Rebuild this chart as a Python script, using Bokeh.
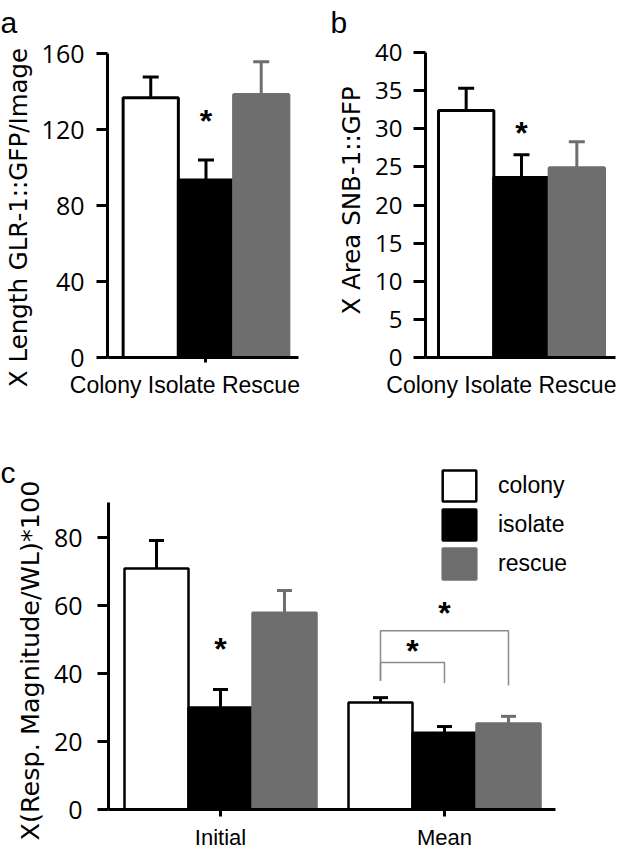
import math
from bokeh.plotting import figure
from bokeh.models import (Range1d, FixedTicker, ColumnDataSource, Whisker, TeeHead,
                          Label, Legend, LegendItem)
from bokeh.layouts import column, row
from bokeh.embed import file_html
from bokeh.resources import INLINE
from bokeh.core.properties import value

# ---------------- data ----------------
cats = ["Colony", "Isolate", "Rescue"]
a_mean = [136.7, 93.4, 138.4]
a_sem = [10.9, 10.5, 17.2]
a_ticks = [0, 40, 80, 120, 160]
a_label = "X Length GLR-1::GFP/Image"
a_star_y = [126.0]

b_mean = [32.4, 23.6, 24.9]
b_sem = [2.9, 3.0, 3.4]
b_ticks = [0, 5, 10, 15, 20, 25, 30, 35, 40]
b_label = "X Area SNB-1::GFP"
b_star_y = [29.9]

groups = ["Initial", "Mean"]
series = ["colony", "isolate", "rescue"]
c_colony = [70.9, 31.5]
c_colony_sem = [8.2, 1.4]
c_isolate = [30.0, 22.6]
c_isolate_sem = [5.3, 1.8]
c_rescue = [57.9, 25.3]
c_rescue_sem = [6.5, 2.1]
c_ticks = [0, 20, 40, 60, 80]
c_label = "X(Resp. Magnitude/WL)*100"
c_star_initial_y = [48.2]
# significance brackets in the "Mean" group: colony vs isolate, colony vs rescue
br_to = ["isolate", "rescue"]
br_top = [43.2, 52.6]
br_left_bottom = [37.9, 37.9]
br_right_bottom = [37.1, 36.5]
br_star_y = [47.6, 58.8]

# ---------------- styles ----------------
WHITE, BLACK, GRAY = "white", "black", "#6e6e6e"
FILLS = [WHITE, BLACK, GRAY]
LINES = [BLACK, BLACK, GRAY]
BR_GRAY = "#8a8a8a"
TICK_FONT = "Open Sans"
TITLE_FONT = "DejaVu Sans"
CAT_FONT = "Liberation Sans"


def base_fig(width, height, xr, yr, left, right, top, bottom):
    p = figure(width=width, height=height, x_range=xr, y_range=yr,
               output_backend="svg", toolbar_location=None, title=None,
               min_border_left=left, min_border_right=right,
               min_border_top=top, min_border_bottom=bottom, frame_align=False)
    p.outline_line_color = None
    p.grid.visible = False
    p.background_fill_color = "white"
    p.border_fill_color = "white"
    return p


def text_fig(width, height):
    """A bare canvas (no axes) that only carries panel letters and axis titles."""
    p = figure(width=width, height=height, x_range=Range1d(0, 1), y_range=Range1d(0, 1),
               output_backend="svg", toolbar_location=None, title=None,
               x_axis_location=None, y_axis_location=None, min_border=0,
               frame_align=False)
    p.outline_line_color = None
    p.grid.visible = False
    p.background_fill_color = "white"
    p.border_fill_color = "white"
    return p


def style_y(p, ticks, tick_out, standoff, size, bounds=None):
    ax = p.yaxis[0]
    ax.ticker = FixedTicker(ticks=ticks)
    if bounds is not None:
        ax.bounds = bounds
    ax.axis_line_width = 3
    ax.axis_line_color = "black"
    ax.major_tick_line_width = 3
    ax.major_tick_line_color = "black"
    ax.major_tick_out = tick_out
    ax.major_tick_in = 0
    ax.minor_tick_line_color = None
    ax.major_label_standoff = standoff
    ax.major_label_text_font = TICK_FONT
    ax.major_label_text_font_size = size
    ax.major_label_text_color = "black"


def style_x(p, ticks, overrides, tick_out, standoff, size, bounds=None):
    ax = p.xaxis[0]
    ax.ticker = FixedTicker(ticks=ticks)
    if bounds is not None:
        ax.bounds = bounds
    ax.major_label_overrides = overrides
    ax.axis_line_width = 3
    ax.axis_line_color = "black"
    ax.major_tick_line_width = 3
    ax.major_tick_line_color = "black" if tick_out > 0 else None
    ax.major_tick_out = tick_out
    ax.major_tick_in = 0
    ax.minor_tick_line_color = None
    ax.major_label_standoff = standoff
    ax.major_label_text_font = CAT_FONT
    ax.major_label_text_font_size = size
    ax.major_label_text_color = "black"


def add_label(p, text, x, y, size, font, angle=0.0, align="center", baseline="middle"):
    p.add_layout(Label(x=x, y=y, x_units="screen", y_units="screen", text=text,
                       angle=angle, text_font=font, text_font_size=size,
                       text_align=align, text_baseline=baseline, text_color="black"))


def add_whisker(p, x, low, up, color, size, lw):
    src = ColumnDataSource(dict(x=[x], lower=[low], upper=[up]))
    p.add_layout(Whisker(base="x", lower="lower", upper="upper", source=src,
                         line_color=color, line_width=lw,
                         upper_head=TeeHead(size=size, line_color=color, line_width=lw),
                         lower_head=None))


def star(p, x, y):
    p.text(x=x, y=y, text=["*"] * len(x), text_font=value(CAT_FONT),
           text_font_size="32px", text_font_style="bold", text_align="center",
           text_baseline="middle", text_color="black", y_offset=3)


def simple_panel(width, left, right, top, bottom, xr, yr, means, sems, ticks,
                 ytick_out, ystd, ysize, xtick_out, xstd, star_y):
    p = base_fig(width, 400, xr, yr, left, right, top, bottom)
    xs = [i + 1 for i in range(len(cats))]
    src = ColumnDataSource(dict(x=xs, top=means, fill=FILLS, line=LINES))
    p.vbar(x="x", top="top", bottom=0, width=1, fill_color="fill",
           line_color="line", line_width=3, source=src)
    for x, m, s, c in zip(xs, means, sems, LINES):
        add_whisker(p, x, m, m + s, c, 16, 3)
    star(p, [xs[1]], star_y)
    style_y(p, ticks, ytick_out, ystd, ysize)
    style_x(p, [xs[1]], {xs[1]: " ".join(cats)}, xtick_out, xstd, "23px")
    return p


# ---------------- panel a ----------------
ta = text_fig(38, 400)
add_label(ta, "a", 0, 378, "30px", CAT_FONT, align="left", baseline="alphabetic")
add_label(ta, a_label, 18, 183, "24.5px", TITLE_FONT, angle=math.pi / 2)
pa = simple_panel(272, 68, 12, 53, 40, Range1d(0.217, 3.675), Range1d(0, 160),
                  a_mean, a_sem, a_ticks, 11, 12, "25px", 5, 9, a_star_y)

# ---------------- panel b ----------------
tb = text_fig(60, 400)
add_label(tb, "b", 20, 378, "30px", CAT_FONT, align="left", baseline="alphabetic")
add_label(tb, b_label, 41, 200, "24.5px", TITLE_FONT, angle=math.pi / 2)
pb = simple_panel(256, 55, 11, 52, 40, Range1d(0.265, 3.699), Range1d(0, 40),
                  b_mean, b_sem, b_ticks, 12, 11, "24px", 0, 14, b_star_y)

# ---------------- panel c ----------------
tc = text_fig(48, 452)
add_label(tc, "c", 0, 380, "30px", CAT_FONT, align="left", baseline="alphabetic")
add_label(tc, c_label, 29, 192, "25.5px", TITLE_FONT, angle=math.pi / 2)

pc = base_fig(578, 452, Range1d(-3.5, 12.6875), Range1d(0, 102.65), 60, 0, 60, 43)
gx = [i * 7 for i in range(len(groups))]
offsets = {"colony": -2, "isolate": 0, "rescue": 2}
vals = {"colony": c_colony, "isolate": c_isolate, "rescue": c_rescue}
sems = {"colony": c_colony_sem, "isolate": c_isolate_sem, "rescue": c_rescue_sem}
renderers = []
for s, fc, lc in zip(series, FILLS, LINES):
    xs = [g + offsets[s] for g in gx]
    r = pc.vbar(x=xs, top=vals[s], bottom=0, width=2, fill_color=fc,
                line_color=lc, line_width=2.5)
    renderers.append(r)
    for x, m, e in zip(xs, vals[s], sems[s]):
        add_whisker(pc, x, m, m + e, lc, 15, 3)

star(pc, [gx[0] + offsets["isolate"]], c_star_initial_y)
bx0 = gx[1] + offsets["colony"]
bxs, bys = [], []
for to, top, lb, rb in zip(br_to, br_top, br_left_bottom, br_right_bottom):
    bx1 = gx[1] + offsets[to]
    bxs.append([bx0, bx0, bx1, bx1])
    bys.append([lb, top, top, rb])
pc.multi_line(xs=bxs, ys=bys, line_color=BR_GRAY, line_width=1.5)
star(pc, [(bx0 + gx[1] + offsets[to]) / 2 for to in br_to], br_star_y)

style_y(pc, c_ticks, 11, 15, "25px", bounds=(0, 90.3))
style_x(pc, gx, {g: n for g, n in zip(gx, groups)}, 7, 8, "22px", bounds=(-3.5, 10.47))

legend = Legend(items=[LegendItem(label=s, renderers=[r]) for s, r in zip(series, renderers)],
                location=(330, 226), orientation="vertical",
                glyph_width=42, glyph_height=39, label_height=39, label_standoff=18,
                spacing=0, padding=0, margin=0, border_line_color=None,
                background_fill_alpha=0, label_text_font=CAT_FONT,
                label_text_font_size="23px", label_text_color="black")
pc.add_layout(legend)

layout = column(row(ta, pa, tb, pb, spacing=0), row(tc, pc, spacing=0), spacing=0)
open("out.html", "w").write(file_html(layout, INLINE))
